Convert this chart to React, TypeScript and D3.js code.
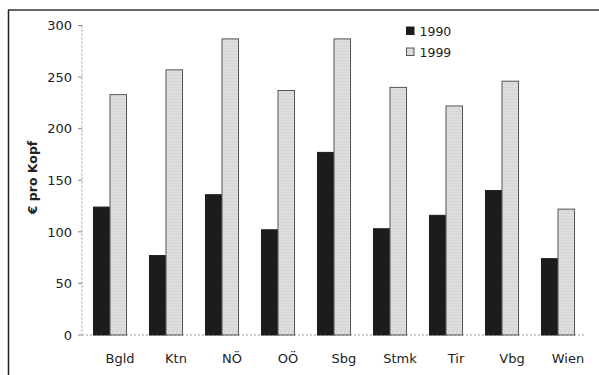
import React from "react";
import * as d3 from "d3";

const categories = ["Bgld", "Ktn", "NÖ", "OÖ", "Sbg", "Stmk", "Tir", "Vbg", "Wien"];
const values1990 = [124, 77, 136, 102, 177, 103, 116, 140, 74];
const values1999 = [233, 257, 287, 237, 287, 240, 222, 246, 122];
const seriesNames = ["1990", "1999"];
const yTicks = [0, 50, 100, 150, 200, 250, 300];

const W = 599;
const H = 375;
const plotLeft = 82;
const plotRight = 586;
const plotTop = 25.5;
const plotBottom = 335;

export default function App() {
  const x = d3.scaleBand<string>().domain(categories).range([plotLeft, plotRight]).paddingInner(0.41).paddingOuter(0.205);
  const xSub = d3.scaleBand<string>().domain(seriesNames).range([0, x.bandwidth()]);
  const y = d3.scaleLinear().domain([0, 300]).range([plotBottom, plotTop]);
  const font = "'DejaVu Sans', Verdana, sans-serif";
  const series = [values1990, values1999];
  const fills = ["#1c1c1c", "#d9d9d9"];

  return (
    <svg width={W} height={H} style={{ position: "absolute", left: 0, top: 0, background: "#fff" }}>
      <defs>
        <pattern id="dots" width="3" height="3" patternUnits="userSpaceOnUse">
          <rect width="3" height="3" fill="#e2e2e2" />
          <rect x="0" y="0" width="1" height="1" fill="#bdbdbd" />
          <rect x="1.5" y="1.5" width="1" height="1" fill="#c8c8c8" />
        </pattern>
      </defs>
      {/* frame */}
      <line x1={8.5} y1={10} x2={8.5} y2={H} stroke="#222" strokeWidth={1.5} />
      <line x1={8} y1={10} x2={W} y2={10} stroke="#333" strokeWidth={1.5} />

      {/* axes */}
      <line x1={plotLeft} y1={plotTop} x2={plotLeft} y2={plotBottom} stroke="#999" strokeWidth={1} strokeDasharray="2,2" />
      <line x1={plotLeft} y1={plotBottom} x2={plotRight} y2={plotBottom} stroke="#999" strokeWidth={1} strokeDasharray="2,2" />
      {yTicks.map((t) => (
        <g key={t}>
          <line x1={plotLeft - 4} x2={plotLeft} y1={y(t)} y2={y(t)} stroke="#888" />
          <text x={72} y={y(t)} dy="0.36em" textAnchor="end" fontFamily={font} fontSize={13} fill="#222">
            {t}
          </text>
        </g>
      ))}

      {/* bars */}
      {categories.map((c, i) => (
        <g key={c} transform={`translate(${x(c)},0)`}>
          {series.map((s, j) => (
            <rect
              key={j}
              x={xSub(seriesNames[j])}
              y={y(s[i])}
              width={xSub.bandwidth()}
              height={y(0) - y(s[i])}
              fill={j === 0 ? fills[0] : "url(#dots)"}
              stroke={j === 0 ? "#1c1c1c" : "#555"}
              strokeWidth={1}
            />
          ))}
          <text
            x={x.bandwidth() / 2 + 10}
            y={363}
            textAnchor="middle"
            fontFamily={font}
            fontSize={13}
            fill="#222"
          >
            {c}
          </text>
        </g>
      ))}

      {/* y title */}
      <text
        transform={`translate(37,177.5) rotate(-90)`}
        textAnchor="middle"
        fontFamily={font}
        fontSize={12.5}
        fontWeight="bold"
        fill="#222"
      >
        € pro Kopf
      </text>

      {/* legend */}
      {seriesNames.map((n, j) => (
        <g key={n} transform={`translate(406.5,${27 + j * 21})`}>
          <rect x={0} y={0} width={7.5} height={7.5} fill={j === 0 ? fills[0] : "url(#dots)"} stroke={j === 0 ? "#1c1c1c" : "#555"} />
          <text x={13} y={4} dy="0.36em" fontFamily={font} fontSize={12.5} fill="#222">
            {n}
          </text>
        </g>
      ))}
    </svg>
  );
}
